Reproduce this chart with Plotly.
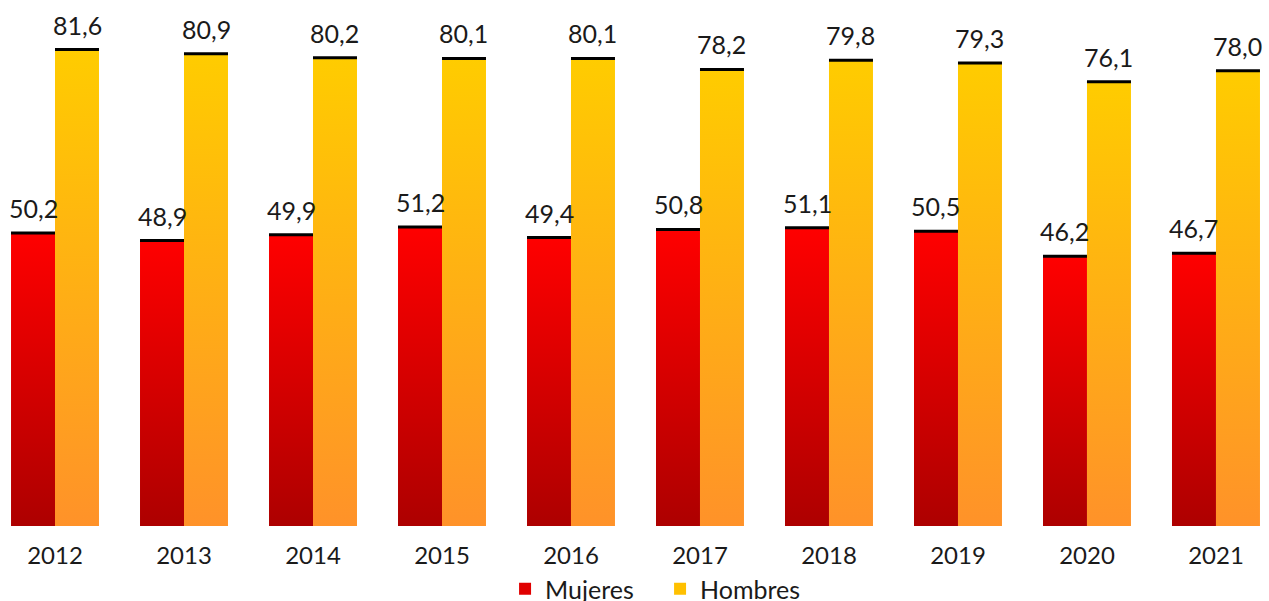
import plotly.graph_objects as go

years = ["2012", "2013", "2014", "2015", "2016", "2017", "2018", "2019", "2020", "2021"]
mujeres = [50.2, 48.9, 49.9, 51.2, 49.4, 50.8, 51.1, 50.5, 46.2, 46.7]
hombres = [81.6, 80.9, 80.2, 80.1, 80.1, 78.2, 79.8, 79.3, 76.1, 78.0]

series = [
    ("Mujeres", mujeres, -1, [[0, "#ad0000"], [1, "#ff0000"]], "#e00000"),
    ("Hombres", hombres, 1, [[0, "#ff9229"], [1, "#ffcc00"]], "#ffc000"),
]

BW = 0.341  # bar width in category units
FONT = "Lato"

fig = go.Figure()
annotations = []

for name, vals, side, cscale, lcolor in series:
    for i, v in enumerate(vals):
        left = i + (-BW if side < 0 else 0)
        right = left + BW
        fig.add_trace(go.Scatter(
            x=[left, left, right, right, left],
            y=[0, v, v, 0, 0],
            mode="lines", fill="toself",
            line=dict(width=0, color="rgba(0,0,0,0)"),
            fillgradient=dict(type="vertical", colorscale=cscale),
            hoverinfo="skip", showlegend=False,
        ))
    # black top edges
    xs, ys = [], []
    for i, v in enumerate(vals):
        left = i + (-BW if side < 0 else 0)
        xs += [left, left + BW, None]
        ys += [v, v, None]
    fig.add_trace(go.Scatter(x=xs, y=ys, mode="lines",
                             line=dict(color="black", width=3),
                             hoverinfo="skip", showlegend=False))
    # labels
    for i, v in enumerate(vals):
        annotations.append(dict(
            x=i + side * BW / 2, y=v, xref="x", yref="y",
            text=f"{v:.1f}".replace(".", ","), showarrow=False,
            yanchor="bottom", xanchor="center", yshift=8,
            font=dict(family=FONT, size=25, color="#1a1a1a"),
        ))
    # legend entry
    fig.add_trace(go.Bar(x=[None], y=[None], name=name,
                         marker=dict(color=lcolor, line=dict(width=0))))

fig.update_layout(
    width=1269, height=612,
    margin=dict(l=0, r=0, t=0, b=81),
    plot_bgcolor="white", paper_bgcolor="white",
    font=dict(family=FONT, size=24, color="#1a1a1a"),
    annotations=annotations,
    xaxis=dict(range=[-0.4264, 9.411], tickvals=list(range(len(years))),
               ticktext=years, showgrid=False, zeroline=False,
               showline=False, ticks="", tickfont=dict(size=24),
               ticklabelstandoff=13),
    yaxis=dict(range=[0, 90.1], visible=False),
    legend=dict(orientation="h", x=0.398, xanchor="left", y=-0.12,
                yanchor="middle", font=dict(size=25), itemwidth=30,
                entrywidth=110, bgcolor="rgba(0,0,0,0)"),
    showlegend=True,
)

fig.write_html(
    "out.html",
    config={"displayModeBar": False},
    post_script="document.body.style.margin='0';document.body.style.overflow='hidden';",
)
